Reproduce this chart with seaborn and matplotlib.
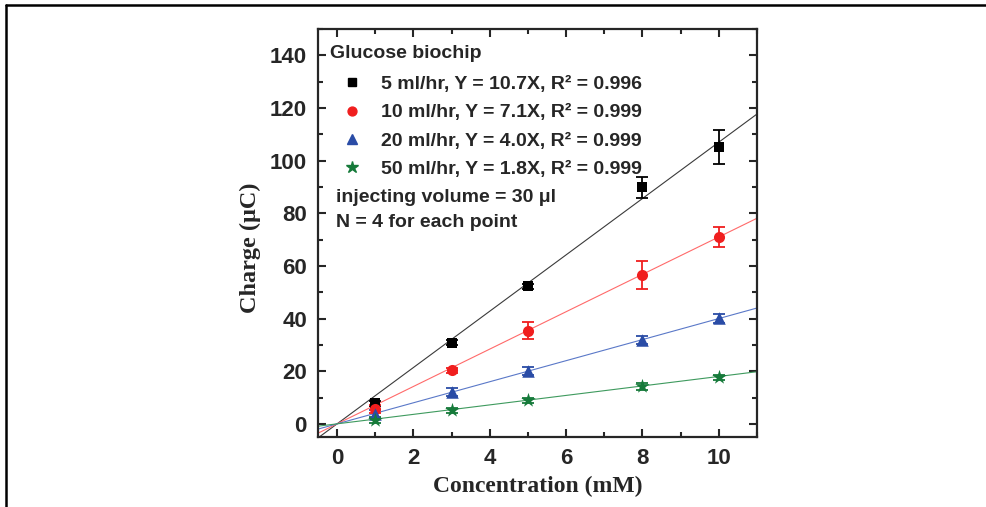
import numpy as np
import pandas as pd
import matplotlib.pyplot as plt
from matplotlib.lines import Line2D
from matplotlib.ticker import MultipleLocator
import seaborn as sns

# data
conc = [1, 3, 5, 8, 10]
charge_5 = [7.8, 30.9, 52.2, 89.8, 105.3]
err_5 = [1.0, 1.0, 1.0, 4.0, 6.5]
charge_10 = [5.6, 20.4, 35.4, 56.7, 70.9]
err_10 = [1.5, 1.0, 3.2, 5.3, 3.9]
charge_20 = [3.8, 12.1, 20.1, 31.9, 40.1]
err_20 = [1.5, 1.5, 1.5, 1.5, 1.8]
charge_50 = [1.5, 5.1, 8.9, 14.2, 17.7]
err_50 = [1.2, 1.0, 1.0, 1.5, 1.0]

flow_rates = ['5 ml/hr', '10 ml/hr', '20 ml/hr', '50 ml/hr']
slopes = [10.7, 7.1, 4.0, 1.8]
r2 = ['0.996', '0.999', '0.999', '0.999']
fit_x = [-0.5, 11]

marker_colors = ['#000000', '#F01E1E', '#2A4CA6', '#167A3A']
line_colors = ['#3a3a3a', '#FF6A6A', '#5A78C8', '#3E9A5E']
markers = ['s', 'o', '^', '*']
msizes = [7.5, 8, 9, 11]

sns.set_theme(style='ticks')
plt.rcParams['font.family'] = ['Liberation Sans', 'DejaVu Sans']

df = pd.DataFrame({
    'conc': conc * 4,
    'charge': charge_5 + charge_10 + charge_20 + charge_50,
    'err': err_5 + err_10 + err_20 + err_50,
    'rate': [r for r in flow_rates for _ in conc],
})
fit_df = pd.DataFrame({
    'conc': fit_x * 4,
    'charge': [s * x for s in slopes for x in fit_x],
    'rate': [r for r in flow_rates for _ in fit_x],
})

fig = plt.figure(figsize=(9.87, 5.07), dpi=100)
ax = fig.add_axes([318 / 987, 1 - 437 / 507, 439 / 987, 408 / 507])

# fit lines
sns.lineplot(data=fit_df, x='conc', y='charge', hue='rate',
             palette=dict(zip(flow_rates, line_colors)), linewidth=0.8,
             legend=False, ax=ax, zorder=1)

# error bars and markers
for i, rate in enumerate(flow_rates):
    sub = df[df['rate'] == rate]
    ax.errorbar(sub['conc'], sub['charge'], yerr=sub['err'], fmt='none',
                ecolor=marker_colors[i], elinewidth=1.3, capsize=4.5,
                capthick=1.3, zorder=2)
    sns.scatterplot(data=sub, x='conc', y='charge', marker=markers[i],
                    color=marker_colors[i], s=msizes[i] ** 2, linewidth=0,
                    legend=False, ax=ax, zorder=3)

ax.set_xlim(-0.5, 11)
ax.set_ylim(-5, 150)
ax.xaxis.set_major_locator(MultipleLocator(2))
ax.xaxis.set_minor_locator(MultipleLocator(1))
ax.yaxis.set_major_locator(MultipleLocator(20))
ax.yaxis.set_minor_locator(MultipleLocator(10))
ax.tick_params(which='both', direction='in', top=True, right=True, width=1.5)
ax.tick_params(which='major', length=6, labelsize=16, pad=8)
ax.tick_params(which='minor', length=3.5)
for lab in ax.get_xticklabels() + ax.get_yticklabels():
    lab.set_fontweight('bold')
for sp in ax.spines.values():
    sp.set_linewidth(1.6)

ax.set_xlabel('Concentration (mM)', fontsize=17, fontweight='bold',
              family='Liberation Serif', labelpad=5)
ax.set_ylabel('Charge (μC)', fontsize=17.5, fontweight='bold',
              family='Liberation Serif')
ax.yaxis.set_label_coords(-0.13, 0.463)

# legend
handles = [Line2D([], [], linestyle='none', marker=markers[i],
                  color=marker_colors[i], markersize=msizes[i] * 0.8)
           for i in range(4)]
labels = [f'{flow_rates[i]}, Y = {slopes[i]:.1f}X, R² = {r2[i]}' for i in range(4)]
leg = ax.legend(handles, labels, loc='upper left', bbox_to_anchor=(0.055, 0.886),
                frameon=False, borderpad=0, borderaxespad=0, handlelength=1.0,
                handletextpad=1.0, labelspacing=0.55,
                prop={'size': 14, 'weight': 'bold'})

ax.text(0.027, 0.94, 'Glucose biochip', transform=ax.transAxes, fontsize=14,
        fontweight='bold', va='center', ha='left')
ax.text(0.041, 0.586, 'injecting volume = 30 μl', transform=ax.transAxes,
        fontsize=14, fontweight='bold', va='center', ha='left')
ax.text(0.041, 0.525, 'N = 4 for each point', transform=ax.transAxes,
        fontsize=14, fontweight='bold', va='center', ha='left')

# outer frame of the picture
fig.add_artist(Line2D([6 / 987, 6 / 987], [0, 1 - 5 / 507], color='black',
                      linewidth=1.8, transform=fig.transFigure))
fig.add_artist(Line2D([6 / 987, 1], [1 - 5 / 507, 1 - 5 / 507], color='black',
                      linewidth=1.8, transform=fig.transFigure))

fig.savefig('out.png', dpi=100)
